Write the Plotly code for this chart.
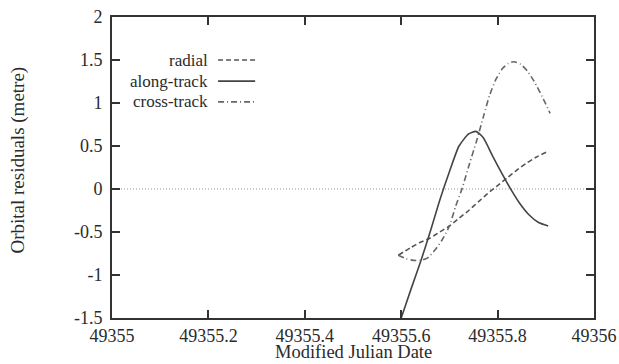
import plotly.graph_objects as go

# Orbit residuals, Modified Julian Date offsets from 49355
mjd_base = 49355
along_dt = [0.600, 0.620, 0.640, 0.660, 0.680, 0.700, 0.720, 0.740, 0.755, 0.770,
            0.790, 0.810, 0.826, 0.845, 0.865, 0.885, 0.905]
along_res = [-1.50, -1.17, -0.85, -0.50, -0.13, 0.20, 0.50, 0.64, 0.67, 0.60,
             0.38, 0.17, 0.01, -0.16, -0.30, -0.39, -0.43]

radial_dt = [0.594, 0.620, 0.640, 0.660, 0.680, 0.700, 0.720, 0.740, 0.760, 0.780,
             0.800, 0.820, 0.840, 0.860, 0.880, 0.902]
radial_res = [-0.77, -0.68, -0.62, -0.57, -0.50, -0.43, -0.34, -0.25, -0.15, -0.05,
              0.04, 0.13, 0.22, 0.30, 0.37, 0.43]

cross_dt = [0.594, 0.610, 0.625, 0.640, 0.655, 0.670, 0.685, 0.700, 0.713, 0.726,
            0.742, 0.757, 0.771, 0.784, 0.797, 0.810, 0.822, 0.834, 0.848, 0.862,
            0.876, 0.892, 0.909]
cross_res = [-0.77, -0.81, -0.83, -0.83, -0.80, -0.71, -0.59, -0.43, -0.20, 0.00,
             0.30, 0.57, 0.85, 1.10, 1.28, 1.40, 1.46, 1.48, 1.45, 1.37,
             1.25, 1.08, 0.88]

x_ticks = [49355, 49355.2, 49355.4, 49355.6, 49355.8, 49356]
x_tick_text = ["49355", "49355.2", "49355.4", "49355.6", "49355.8", "49356"]
y_ticks = [-1.5, -1, -0.5, 0, 0.5, 1, 1.5, 2]
y_tick_text = ["-1.5", "-1", "-0.5", "0", "0.5", "1", "1.5", "2"]

series = [
    ("radial", radial_dt, radial_res, "5px,3px", "#555555"),
    ("along-track", along_dt, along_res, "solid", "#444444"),
    ("cross-track", cross_dt, cross_res, "6px,3px,1px,3px", "#666666"),
]

FONT = "Liberation Serif, Times New Roman, serif"
INK = "#2b2b2b"

fig = go.Figure()
for name, dt, res, dash, color in series:
    fig.add_trace(go.Scatter(
        x=[mjd_base + d for d in dt], y=res, mode="lines", name=name,
        line=dict(color=color, width=1.6, dash=dash, shape="spline", smoothing=0.6),
        showlegend=False,
    ))

# Dotted zero axis
fig.add_shape(type="line", xref="paper", x0=0, x1=1, yref="y", y0=0, y1=0,
              line=dict(color="#9a9a9a", width=1.2, dash="1px,2px"), layer="below")

# Key: labels right-aligned with a line sample to their right
key_rows = [0.857, 0.787, 0.718]
for (name, _, _, dash, color), yk in zip(series, key_rows):
    fig.add_annotation(text=name, xref="paper", yref="paper", x=0.203, y=yk,
                       xanchor="right", yanchor="middle", showarrow=False,
                       font=dict(family=FONT, size=17, color=INK))
    fig.add_shape(type="line", xref="paper", yref="paper", x0=0.220, x1=0.297,
                  y0=yk, y1=yk, line=dict(color=color, width=1.6, dash=dash))

# Axis titles
fig.add_annotation(text="Modified Julian Date", xref="paper", yref="paper",
                   x=0.5, y=-0.1528, xanchor="center", yanchor="bottom",
                   showarrow=False, font=dict(family=FONT, size=18.5, color=INK))
fig.add_annotation(text="Orbital residuals (metre)", xref="paper", yref="paper",
                   x=-0.195, y=0.523, xanchor="center", yanchor="middle",
                   textangle=-90, showarrow=False,
                   font=dict(family=FONT, size=19, color=INK))

axis_common = dict(
    showline=True, linecolor="#333333", linewidth=1.8, mirror="ticks",
    ticks="inside", ticklen=8, tickwidth=1.8, tickcolor="#333333",
    showgrid=False, zeroline=False, automargin=False,
    tickfont=dict(family=FONT, size=18, color=INK),
)

fig.update_layout(
    width=619, height=364,
    margin=dict(l=112, r=25, t=17, b=46),
    paper_bgcolor="white", plot_bgcolor="white",
    font=dict(family=FONT, size=18, color=INK),
    xaxis=dict(range=[49355, 49356], tickvals=x_ticks, ticktext=x_tick_text,
               **axis_common),
    yaxis=dict(range=[-1.5, 2], tickvals=y_ticks, ticktext=y_tick_text,
               ticklabelstandoff=4, **axis_common),
)

fig.write_html("out.html")
